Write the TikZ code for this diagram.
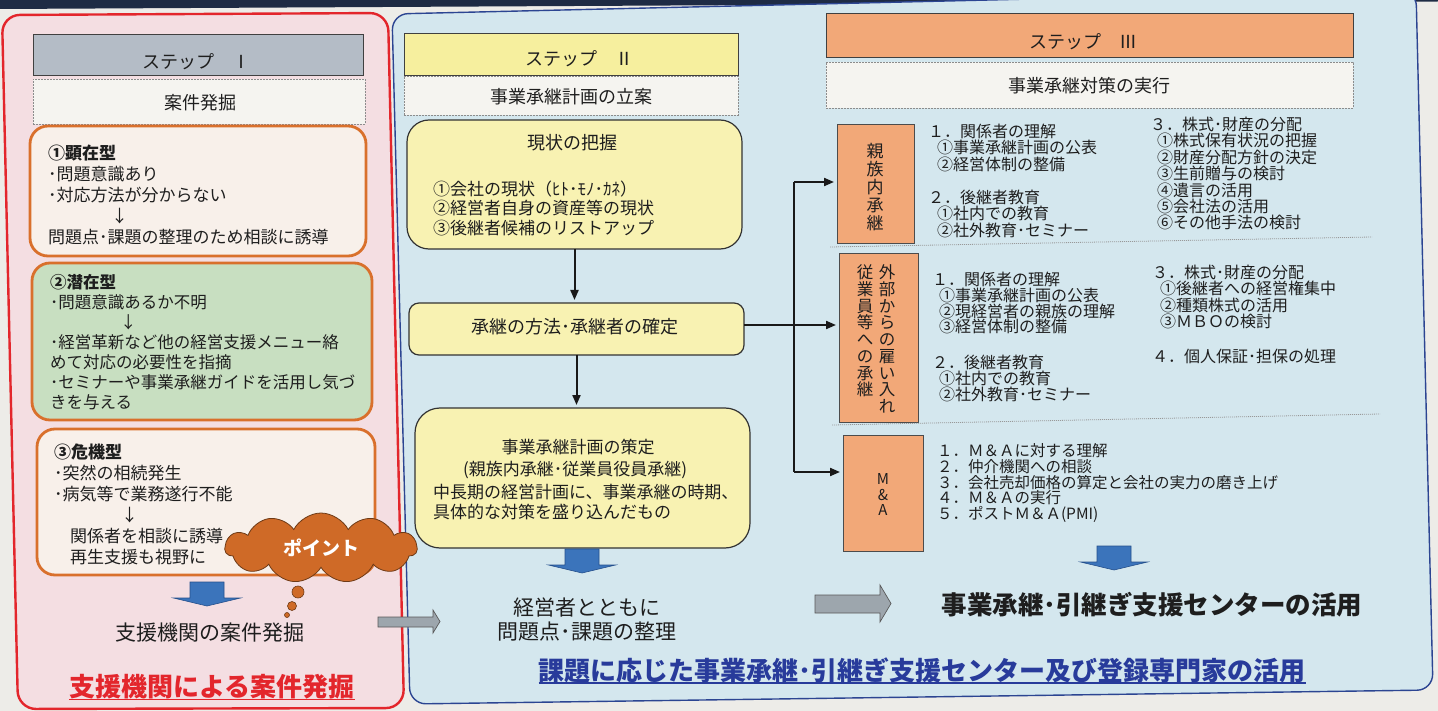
\documentclass[tikz,border=0pt]{standalone}
\usepackage{fontspec}
\setmainfont{Noto Sans CJK JP}
\usetikzlibrary{shapes.symbols,arrows.meta}
\definecolor{pagebg}{HTML}{EDECE8}
\definecolor{navy}{HTML}{1E2B44}
\definecolor{redb}{HTML}{E3262C}
\definecolor{pinkf}{HTML}{F4DEE2}
\definecolor{blueb}{HTML}{2C4592}
\definecolor{bluef}{HTML}{D4E7EE}
\definecolor{grayhdr}{HTML}{B4BCC6}
\definecolor{yelhdr}{HTML}{F6EF9E}
\definecolor{orahdr}{HTML}{F2A878}
\definecolor{dashf}{HTML}{F5F4F0}
\definecolor{orab}{HTML}{D9702C}
\definecolor{creamf}{HTML}{F8F0EA}
\definecolor{greenf}{HTML}{C8DFC1}
\definecolor{yelboxf}{HTML}{F8F2B2}
\definecolor{cloudf}{HTML}{CF6A27}
\definecolor{cloudb}{HTML}{6E3A16}
\definecolor{arrowblue}{HTML}{3B74BB}
\definecolor{arrowblueb}{HTML}{25508C}
\definecolor{arrowgray}{HTML}{9DA6AD}
\definecolor{titleblue}{HTML}{283B9B}
\definecolor{inkc}{HTML}{1E1E1E}
\newcommand\myfs[2]{\fontsize{#1}{#2}\selectfont\lineskiplimit=-100pt\relax}
\begin{document}
\begin{tikzpicture}[x=1pt,y=-1pt,
  every node/.style={inner sep=0pt, outer sep=0pt, text=inkc},
  box/.style={draw},
  hdr/.style={box, draw=black!75, line width=0.8pt},
  dashbox/.style={box, draw=black!45, dash pattern=on 2pt off 1pt, line width=0.7pt, fill=dashf},
  casebox/.style={box, draw=orab, line width=2.8pt, rounded corners=18pt},
  ybox/.style={box, draw=black!80, line width=1.2pt, fill=yelboxf},
  sidebox/.style={box, fill=orahdr, draw=black!70, line width=0.9pt},
  lines/.style={anchor=north west, align=left},
  conn/.style={line width=2pt, draw=black!90},
  tip/.style={conn, -{Triangle[length=10pt,width=8pt]}, shorten >=3pt},
  sep/.style={draw=black!40, dash pattern=on 1pt off 1pt, line width=0.8pt},
  barrow/.style={fill=arrowblue, draw=arrowblueb, line width=0.6pt},
  garrow/.style={fill=arrowgray, draw=black!65, line width=0.7pt},
  redpanel/.style={fill=pinkf, draw=redb, line width=2.4pt, rounded corners=18pt},
  bluepanel/.style={fill=bluef, draw=blueb, line width=1.4pt, rounded corners=16pt},
  bubble/.style={fill=cloudf, draw=cloudb, line width=0.6pt},
  dnarrow/.pic={\path[barrow] (-17,0) -- (17,0) -- (17,16) -- (33.5,16) -- (0,24) -- (-33.5,16) -- (-17,16) -- cycle;}
]
\useasboundingbox (0,0) rectangle (1438,711);
\fill[pagebg] (0,0) rectangle (1438,711);
\fill[navy] (0,0) -- (1438,0) -- (1438,1.5) -- (0,9) -- cycle;
\path[redpanel] (2,15) -- (388,13) -- (404,708) -- (18,709) -- cycle;
\path[bluepanel] (392,14) -- (1416,-10) -- (1433,690) -- (410,704) -- cycle;

% ---------- Step I ----------
\node[hdr, fill=grayhdr, minimum width=330pt, minimum height=41pt] (h1) at (198,54.5) {};
\node[font=\myfs{18}{18}] (h1t) at (196,61.5) {ステップ　Ⅰ};
\node[dashbox, minimum width=332pt, minimum height=45pt] (d1) at (199,101.5) {};
\node[font=\myfs{18}{18}] (d1t) at (200,103) {案件発掘};

\node[casebox, fill=creamf, minimum width=336pt, minimum height=130pt] (c1) at (198,191) {};
\node[lines, font=\myfs{17}{21}] (c1t) at (48,144.5) {{\bfseries ①顕在型}\\･問題意識あり\\･対応方法が分からない\\\hspace*{63pt}↓\\問題点･課題の整理のため相談に誘導};

\node[casebox, fill=greenf, minimum width=340pt, minimum height=157pt] (c2) at (202,341.5) {};
\node[lines, font=\myfs{16.5}{20}] (c2t) at (50,274) {{\bfseries ②潜在型}\\･問題意識あるか不明\\\hspace*{70pt}↓\\･経営革新など他の経営支援メニュー絡\\めて対応の必要性を指摘\\･セミナーや事業承継ガイドを活用し気づ\\きを与える};

\node[casebox, fill=creamf, minimum width=338pt, minimum height=146pt] (c3) at (206,502) {};
\node[lines, font=\myfs{17}{21}] (c3t) at (54,443.5) {{\bfseries ③危機型}\\･突然の相続発生\\･病気等で業務遂行不能\\\hspace*{67pt}↓\\\hspace*{16pt}関係者を相談に誘導\\\hspace*{16pt}再生支援も視野に};

\node[cloud, cloud puffs=11, cloud puff arc=125, aspect=2.7, fill=cloudf, draw=cloudb, line width=0.8pt, minimum width=192pt, minimum height=70pt, font=\bfseries\myfs{19}{19}, text=white] (pt) at (321,548) {ポイント};
\path[bubble] (298,592) circle[radius=6];
\path[bubble] (292,606) circle[radius=4.5];
\path[bubble] (287,615) circle[radius=2.5];

\pic at (207,582) {dnarrow};
\node[font=\myfs{21}{21}] (l1) at (210,633) {支援機関の案件発掘};
\node[font=\bfseries\myfs{26}{26}, text=redb] (l2) at (212,687) {支援機関による案件発掘};
\draw[redb, line width=1.6pt] (l2.south west) -- (l2.south east);

\path[garrow] (378,617) -- (433,617) -- (433,610) -- (440,621.5) -- (433,633) -- (433,627) -- (378,627) -- cycle;

% ---------- Step II ----------
\node[hdr, fill=yelhdr, minimum width=334pt, minimum height=42pt] (h2) at (571,54) {};
\node[font=\myfs{18}{18}] (h2t) at (579,58.5) {ステップ　Ⅱ};
\node[dashbox, minimum width=334pt, minimum height=39pt] (d2) at (571,95.5) {};
\node[font=\myfs{18}{18}] (d2t) at (571,97) {事業承継計画の立案};

\node[ybox, rounded corners=22pt, minimum width=335pt, minimum height=129pt] (y1) at (574.5,184.5) {};
\node[font=\myfs{18}{18}] (y1h) at (572,143) {現状の把握};
\node[lines, font=\myfs{17}{19.5}] (y1t) at (433,180.5) {①会社の現状（ﾋﾄ･ﾓﾉ･ｶﾈ）\\②経営者自身の資産等の現状\\③後継者候補のリストアップ};

\node[ybox, rounded corners=10pt, minimum width=335pt, minimum height=52pt] (y2) at (576.5,329) {};
\node[font=\myfs{18}{18}] (y2t) at (575,327) {承継の方法･承継者の確定};

\node[ybox, rounded corners=25pt, minimum width=335pt, minimum height=140pt] (y3) at (582.5,478) {};
\node[font=\myfs{17}{17}] (y3a) at (578,447) {事業承継計画の策定};
\node[font=\myfs{17}{17}] (y3b) at (575,470) {(親族内承継･従業員役員承継)};
\node[lines, font=\myfs{17}{20}] (y3c) at (433,484.5) {中長期の経営計画に、事業承継の時期、\\具体的な対策を盛り込んだもの};

\draw[tip] (y1.south) -- (y1.south |- y2.north);
\draw[tip] (y2.south) -- (y2.south |- y3.north);

\pic at (582,549) {dnarrow};
\node[align=center, font=\myfs{21}{24}] (mt) at (587,620) {経営者とともに\\問題点･課題の整理};

\node[font=\bfseries\myfs{26}{26}, text=titleblue] (bt) at (922,670) {課題に応じた事業承継･引継ぎ支援センター及び登録専門家の活用};
\draw[titleblue, line width=1.6pt] (bt.south west) -- (bt.south east);

% ---------- Step III ----------
\node[hdr, fill=orahdr, minimum width=527pt, minimum height=44pt] (h3) at (1089.5,35) {};
\node[font=\myfs{18}{18}] (h3t) at (1083,42) {ステップ　Ⅲ};
\node[dashbox, minimum width=527pt, minimum height=46pt] (d3) at (1089.5,85) {};
\node[font=\myfs{18}{18}] (d3t) at (1089,86) {事業承継対策の実行};

\node[sidebox, minimum width=77pt, minimum height=119pt] (b1) at (875.5,183.5) {};
\node[align=center, font=\myfs{17}{18}] (b1t) at (875,187.5) {親\\族\\内\\承\\継};
\node[lines, font=\myfs{16}{16.5}] (s1a) at (928,124) {１．関係者の理解\\\hspace*{9pt}①事業承継計画の公表\\\hspace*{9pt}②経営体制の整備\\[16.5pt]２．後継者教育\\\hspace*{9pt}①社内での教育\\\hspace*{9pt}②社外教育･セミナー};
\node[lines, font=\myfs{16}{16.4}] (s1b) at (1150,117) {３．株式･財産の分配\\\hspace*{7pt}①株式保有状況の把握\\\hspace*{7pt}②財産分配方針の決定\\\hspace*{7pt}③生前贈与の検討\\\hspace*{7pt}④遺言の活用\\\hspace*{7pt}⑤会社法の活用\\\hspace*{7pt}⑥その他手法の検討};
\draw[sep] (830,247) -- (1372,237);

\node[sidebox, minimum width=79pt, minimum height=169pt] (b2) at (878.5,337.5) {};
\node[anchor=north, align=center, font=\myfs{16.5}{16.7}] (b2r) at (887,265) {外\\部\\か\\ら\\の\\雇\\い\\入\\れ};
\node[anchor=north, align=center, font=\myfs{16.5}{16.7}] (b2l) at (865,265) {従\\業\\員\\等\\へ\\の\\承\\継};
\node[lines, font=\myfs{16}{15.8}] (s2a) at (932,272) {１．関係者の理解\\\hspace*{7pt}①事業承継計画の公表\\\hspace*{7pt}②現経営者の親族の理解\\\hspace*{7pt}③経営体制の整備\\[20pt]２．後継者教育\\\hspace*{7pt}①社内での教育\\\hspace*{7pt}②社外教育･セミナー};
\node[lines, font=\myfs{16}{16.3}] (s2b) at (1152,265) {３．株式･財産の分配\\\hspace*{8pt}①後継者への経営権集中\\\hspace*{8pt}②種類株式の活用\\\hspace*{8pt}③ＭＢＯの検討\\[19pt]４．個人保証･担保の処理};
\draw[sep] (832,425) -- (1380,414);

\node[sidebox, minimum width=80pt, minimum height=116pt] (b3) at (883,493) {};
\node[align=center, font=\myfs{15}{15.5}] (b3t) at (883,495) {M\\\&\\A};
\node[lines, font=\myfs{15.5}{15.8}] (s3) at (937,443.5) {１．Ｍ＆Ａに対する理解\\２．仲介機関への相談\\３．会社売却価格の算定と会社の実力の磨き上げ\\４．Ｍ＆Ａの実行\\５．ポストＭ＆Ａ(PMI)};

% connectors
\coordinate (tTop) at (794,182);
\coordinate (tBot) at (794,472);
\draw[conn] (tTop) -- (tBot);
\draw[tip] (tTop) -- (tTop -| b1.west);
\draw[tip] ([yshift=4pt]y2.east) -- ([yshift=4pt]y2.east -| b2.west);
\draw[tip] (tBot) -- (tBot -| b3.west);

\pic at (1114,546) {dnarrow};
\path[garrow] (815,595) -- (880,595) -- (880,585) -- (891,603.5) -- (880,622) -- (880,613) -- (815,613) -- cycle;
\node[font=\bfseries\myfs{25.5}{25.5}] (ct) at (1152,605) {事業承継･引継ぎ支援センターの活用};
\end{tikzpicture}
\end{document}
